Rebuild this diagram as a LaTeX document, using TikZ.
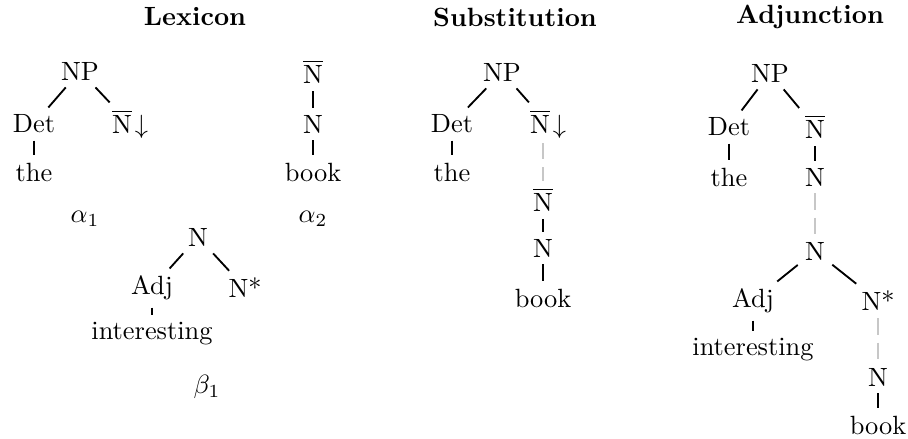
\documentclass[tikz,border=0pt]{standalone}
\begin{document}
\begin{tikzpicture}[x=0.379pt,y=-0.379pt,
  tn/.style={inner sep=2.6pt},
  ed/.style={line width=0.7pt},
  sub/.style={line width=0.7pt,draw=black!22,dash pattern=on 6.2pt off 3pt},
  ttl/.style={font=\bfseries}]
\useasboundingbox (0,0) rectangle (908,438);
% titles
\node[ttl] (t1) at (195,17) {Lexicon};
\node[ttl] (t2) at (515,17) {Substitution};
\node[ttl] (t3) at (810,17) {Adjunction};
% alpha1
\node[tn] (a1np) at (80,71) {NP};
\node[tn] (a1det) at (34,124) {Det};
\node[tn] (a1nb) at (130,124) {$\overline{\mathrm{N}}\!\downarrow$};
\node[tn] (a1the) at (34,172) {the};
\node (a1lab) at (85,219) {$\alpha_1$};
\draw[ed] (a1np) -- (a1det);
\draw[ed] (a1np) -- (a1nb);
\draw[ed] (a1det) -- (a1the);
% alpha2
\node[tn] (a2nb) at (313,72) {$\overline{\mathrm{N}}$};
\node[tn] (a2n) at (313,124) {N};
\node[tn] (a2book) at (313,172) {book};
\node (a2lab) at (313,219) {$\alpha_2$};
\draw[ed] (a2nb) -- (a2n);
\draw[ed] (a2n) -- (a2book);
% beta1
\node[tn] (b1n) at (198,237) {N};
\node[tn] (b1adj) at (152,288) {Adj};
\node[tn] (b1ns) at (245,288) {N*};
\node[tn] (b1int) at (152,334) {interesting};
\node (b1lab) at (207,387) {$\beta_1$};
\draw[ed] (b1n) -- (b1adj);
\draw[ed] (b1n) -- (b1ns);
\draw[ed] (b1adj) -- (b1int);
% substitution
\node[tn] (snp) at (502,72) {NP};
\node[tn] (sdet) at (452,124) {Det};
\node[tn] (snbd) at (548,124) {$\overline{\mathrm{N}}\!\downarrow$};
\node[tn] (sthe) at (452,172) {the};
\node[tn] (snb) at (543,200) {$\overline{\mathrm{N}}$};
\node[tn] (sn) at (543,248) {N};
\node[tn] (sbook) at (543,298) {book};
\draw[ed] (snp) -- (sdet);
\draw[ed] (snp) -- (snbd);
\draw[ed] (sdet) -- (sthe);
\draw[sub] (543,143) -- (snb);
\draw[ed] (snb) -- (sn);
\draw[ed] (sn) -- (sbook);
% adjunction
\node[tn] (anp) at (770,73) {NP};
\node[tn] (adet) at (729,127) {Det};
\node[tn] (anb) at (815,127) {$\overline{\mathrm{N}}$};
\node[tn] (athe) at (729,177) {the};
\node[tn] (an1) at (815,177) {N};
\node[tn] (an2) at (815,251) {N};
\node[tn] (aadj) at (753,301) {Adj};
\node[tn] (ans) at (878,301) {N*};
\node[tn] (aint) at (753,350) {interesting};
\node[tn] (an3) at (878,377) {N};
\node[tn] (abook) at (878,425) {book};
\draw[ed] (anp) -- (adet);
\draw[ed] (anp) -- (anb);
\draw[ed] (adet) -- (athe);
\draw[ed] (anb) -- (an1);
\draw[sub] (an1) -- (an2);
\draw[ed] (an2) -- (aadj);
\draw[ed] (an2) -- (ans);
\draw[ed] (aadj) -- (aint);
\draw[sub] (ans) -- (an3);
\draw[ed] (an3) -- (abook);
\end{tikzpicture}
\end{document}
